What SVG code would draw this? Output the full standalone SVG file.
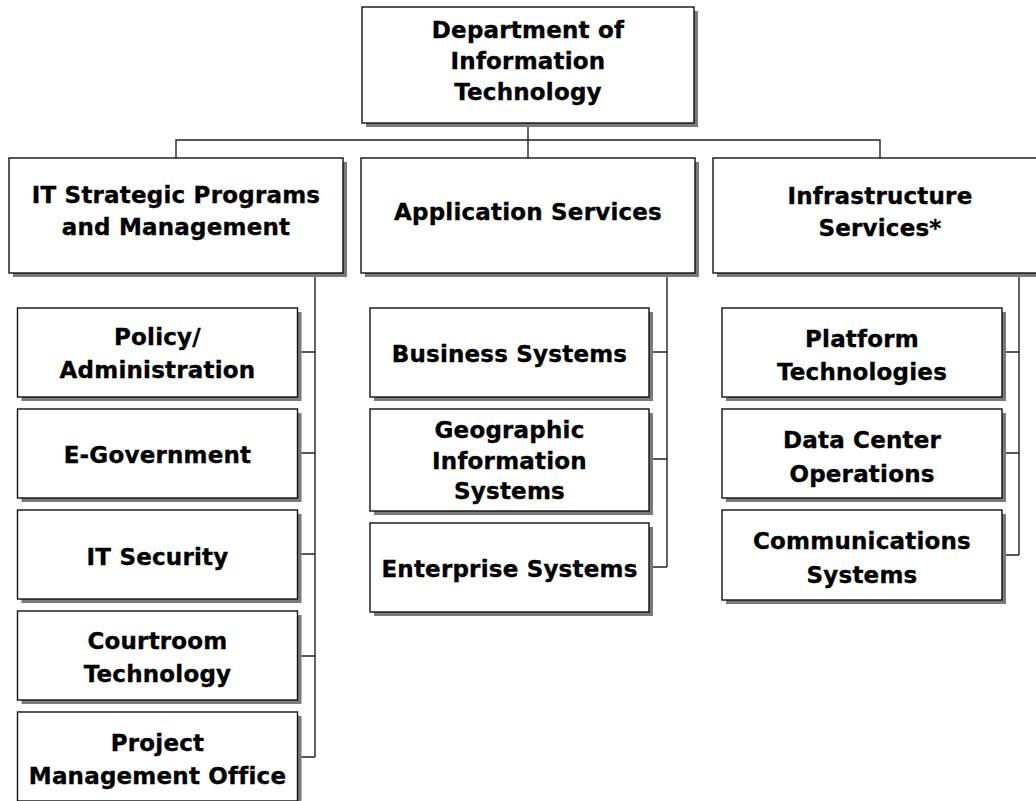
<svg xmlns="http://www.w3.org/2000/svg" width="1036" height="801" viewBox="0 0 1036 801">
<style>
.sh{fill:#7a7a7a}
.bx{fill:#fff;stroke:#111;stroke-width:1.4}
.t{font-family:"DejaVu Sans","Verdana",sans-serif;font-weight:bold;font-size:23px;fill:#000;stroke:#000;stroke-width:0.35;text-anchor:middle;letter-spacing:0.2px}
.c{fill:none;stroke:#222;stroke-width:1.4}
</style>
<rect width="1036" height="801" fill="#fff"/>
<g id="connectors">
<path class="c" d="M528 123V158M176 158V140H880V158"/>
<path class="c" d="M315 273V757M298 352H315M298 453H315M298 554H315M298 656H315M298 757H315"/>
<path class="c" d="M667 273V567M649 352H667M649 459H667M649 567H667"/>
<path class="c" d="M1019 273V555M1002 352H1019M1002 453H1019M1002 555H1019"/>
</g>
<g id="n-dept">
<rect class="sh" x="366" y="11" width="332" height="116"/>
<rect class="bx" x="362" y="7" width="332" height="116"/>
<text class="t" x="528" y="38">Department of</text>
<text class="t" x="528" y="69">Information</text>
<text class="t" x="528" y="100">Technology</text>
</g>
<g id="n-strategic">
<rect class="sh" x="13" y="162" width="334" height="115"/>
<rect class="bx" x="9" y="158" width="334" height="115"/>
<text class="t" x="176" y="203">IT Strategic Programs</text>
<text class="t" x="176" y="235">and Management</text>
</g>
<g id="n-app">
<rect class="sh" x="365" y="162" width="334" height="115"/>
<rect class="bx" x="361" y="158" width="334" height="115"/>
<text class="t" x="528" y="220">Application Services</text>
</g>
<g id="n-infra">
<rect class="sh" x="717" y="162" width="334" height="115"/>
<rect class="bx" x="713" y="158" width="334" height="115"/>
<text class="t" x="880" y="204">Infrastructure</text>
<text class="t" x="880" y="236">Services*</text>
</g>
<g id="n-policy">
<rect class="sh" x="21.5" y="312" width="280" height="89"/>
<rect class="bx" x="17.5" y="308" width="280" height="89"/>
<text class="t" x="157.5" y="345">Policy/</text>
<text class="t" x="157.5" y="378">Administration</text>
</g>
<g id="n-egov">
<rect class="sh" x="21.5" y="413" width="280" height="89"/>
<rect class="bx" x="17.5" y="409" width="280" height="89"/>
<text class="t" x="157.5" y="463">E-Government</text>
</g>
<g id="n-itsec">
<rect class="sh" x="21.5" y="514" width="280" height="89"/>
<rect class="bx" x="17.5" y="510" width="280" height="89"/>
<text class="t" x="157.5" y="565">IT Security</text>
</g>
<g id="n-court">
<rect class="sh" x="21.5" y="615" width="280" height="89"/>
<rect class="bx" x="17.5" y="611" width="280" height="89"/>
<text class="t" x="157.5" y="649">Courtroom</text>
<text class="t" x="157.5" y="682">Technology</text>
</g>
<g id="n-pmo">
<rect class="sh" x="21.5" y="716" width="280" height="89"/>
<rect class="bx" x="17.5" y="712" width="280" height="89"/>
<text class="t" x="157.5" y="751">Project</text>
<text class="t" x="157.5" y="784">Management Office</text>
</g>
<g id="n-business">
<rect class="sh" x="374" y="312" width="279" height="89"/>
<rect class="bx" x="370" y="308" width="279" height="89"/>
<text class="t" x="509.5" y="362">Business Systems</text>
</g>
<g id="n-gis">
<rect class="sh" x="374" y="413" width="279" height="102"/>
<rect class="bx" x="370" y="409" width="279" height="102"/>
<text class="t" x="509.5" y="438">Geographic</text>
<text class="t" x="509.5" y="469">Information</text>
<text class="t" x="509.5" y="499">Systems</text>
</g>
<g id="n-enterprise">
<rect class="sh" x="374" y="527" width="279" height="89"/>
<rect class="bx" x="370" y="523" width="279" height="89"/>
<text class="t" x="509.5" y="577">Enterprise Systems</text>
</g>
<g id="n-platform">
<rect class="sh" x="726" y="312" width="280" height="89"/>
<rect class="bx" x="722" y="308" width="280" height="89"/>
<text class="t" x="862" y="347">Platform</text>
<text class="t" x="862" y="380">Technologies</text>
</g>
<g id="n-datacenter">
<rect class="sh" x="726" y="413" width="280" height="89"/>
<rect class="bx" x="722" y="409" width="280" height="89"/>
<text class="t" x="862" y="448">Data Center</text>
<text class="t" x="862" y="482">Operations</text>
</g>
<g id="n-comms">
<rect class="sh" x="726" y="514" width="280" height="90"/>
<rect class="bx" x="722" y="510" width="280" height="90"/>
<text class="t" x="862" y="549">Communications</text>
<text class="t" x="862" y="583">Systems</text>
</g>
</svg>
